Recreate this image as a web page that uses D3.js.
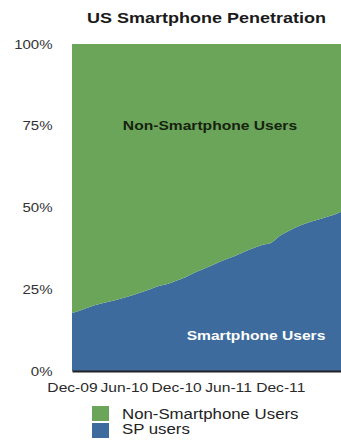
<!DOCTYPE html>
<html><head><meta charset="utf-8">
<script src="https://cdn.jsdelivr.net/npm/d3@7"></script>
<style>body{margin:0;background:#fff} svg{display:block}</style>
</head><body>
<svg id="c" width="341" height="446"></svg>
<script>
const title = "US Smartphone Penetration";
const months = ["2009-12","2010-01","2010-02","2010-03","2010-04","2010-05","2010-06","2010-07",
  "2010-08","2010-09","2010-10","2010-11","2010-12","2011-01","2011-02","2011-03","2011-04",
  "2011-05","2011-06","2011-07","2011-08","2011-09","2011-10","2011-11","2011-12","2012-01",
  "2012-02","2012-03","2012-04","2012-05","2012-06","2012-07"];
const spUsers = [17.7,18.6,19.6,20.3,21.0,21.6,22.4,23.2,24.1,25.0,26.0,26.6,27.6,28.6,30.0,31.0,
  32.1,33.3,34.4,35.4,36.6,37.7,38.6,39.3,41.4,42.9,44.2,45.2,46.0,46.8,47.6,48.7];
const nonSpUsers = [82.3,81.4,80.4,79.7,79.0,78.4,77.6,76.8,75.9,75.0,74.0,73.4,72.4,71.4,70.0,69.0,
  67.9,66.7,65.6,64.6,63.4,62.3,61.4,60.7,58.6,57.1,55.8,54.8,54.0,53.2,52.4,51.3];
const seriesNames = ["Non-Smartphone Users","SP users"];
const areaLabels = ["Non-Smartphone Users","Smartphone Users"];
const xTickLabels = ["Dec-09","Jun-10","Dec-10","Jun-11","Dec-11"];
const yTickValues = [0,25,50,75,100];
const yTickLabels = ["0%","25%","50%","75%","100%"];

const green = "#6aa55a", blue = "#3d6b9e";
const FONT = "'Liberation Sans', Arial, Helvetica, sans-serif";
const SX = 1.2;
function stretch(sel){
  sel.each(function(){
    const w = this.getComputedTextLength();
    this.setAttribute("textLength", w*SX);
    this.setAttribute("lengthAdjust","spacingAndGlyphs");
  });
}

const parseM = d3.timeParse("%Y-%m");
const parseT = d3.timeParse("%b-%y");
const rows = months.map((m,i)=>({date:parseM(m), sp:spUsers[i], non:nonSpUsers[i]}));

const L = 72, R = 341, T = 44, B = 371;
const x = d3.scaleTime().domain(d3.extent(rows, d=>d.date)).range([L,R]);
const y = d3.scaleLinear().domain([0,100]).range([B,T]);

const svg = d3.select("#c");
const stack = d3.stack().keys(["sp","non"]);
const layers = stack(rows);
const area = d3.area().x(d=>x(d.data.date)).y0(d=>y(d[0])).y1(d=>y(d[1])).curve(d3.curveMonotoneX);
const colors = {sp:blue, non:green};
svg.append("g").selectAll("path").data(layers).join("path")
  .attr("d", area).attr("fill", d=>colors[d.key]);

// title
svg.append("text").attr("x", (L+R)/2).attr("y", 23).attr("text-anchor","middle")
  .attr("font-family",FONT).attr("font-weight","bold").attr("font-size",15).attr("fill","#1a1a1a")
  .text(title).call(stretch);

// area labels
svg.append("text").attr("x", 210).attr("y", 130).attr("text-anchor","middle")
  .attr("font-family",FONT).attr("font-weight","bold").attr("font-size",13).attr("fill","#17220f")
  .text(areaLabels[0]).call(stretch);
svg.append("text").attr("x", 256).attr("y", 340).attr("text-anchor","middle")
  .attr("font-family",FONT).attr("font-weight","bold").attr("font-size",13).attr("fill","#ffffff")
  .text(areaLabels[1]).call(stretch);

// x axis
const xAxis = d3.axisBottom(x).tickValues(xTickLabels.map(parseT))
  .tickFormat((d,i)=>xTickLabels[i]).tickSize(0).tickSizeOuter(0).tickPadding(12);
const gx = svg.append("g").attr("transform",`translate(0,${B})`).call(xAxis);
gx.select(".domain").attr("stroke","#222").attr("stroke-width",2);
gx.selectAll("text").attr("font-family",FONT).attr("font-size",13).attr("fill","#2a2a2a").call(stretch);

// y axis
const yAxis = d3.axisLeft(y).tickValues(yTickValues).tickFormat((d,i)=>yTickLabels[i])
  .tickSize(0).tickPadding(19.5);
const gy = svg.append("g").attr("transform",`translate(${L},0)`).call(yAxis);
gy.select(".domain").remove();
gy.selectAll("text").attr("font-family",FONT).attr("font-size",12.5).attr("fill","#333").call(stretch);

// legend
const legColors = [green, blue];
const lg = svg.append("g");
seriesNames.forEach((n,i)=>{
  lg.append("rect").attr("x",92).attr("y",406+i*17).attr("width",17).attr("height",15).attr("fill",legColors[i]);
  lg.append("text").attr("x",122).attr("y",419+i*15).attr("font-family",FONT).attr("font-size",14)
    .attr("fill","#222").text(n).call(stretch);
});
</script>
</body></html>
